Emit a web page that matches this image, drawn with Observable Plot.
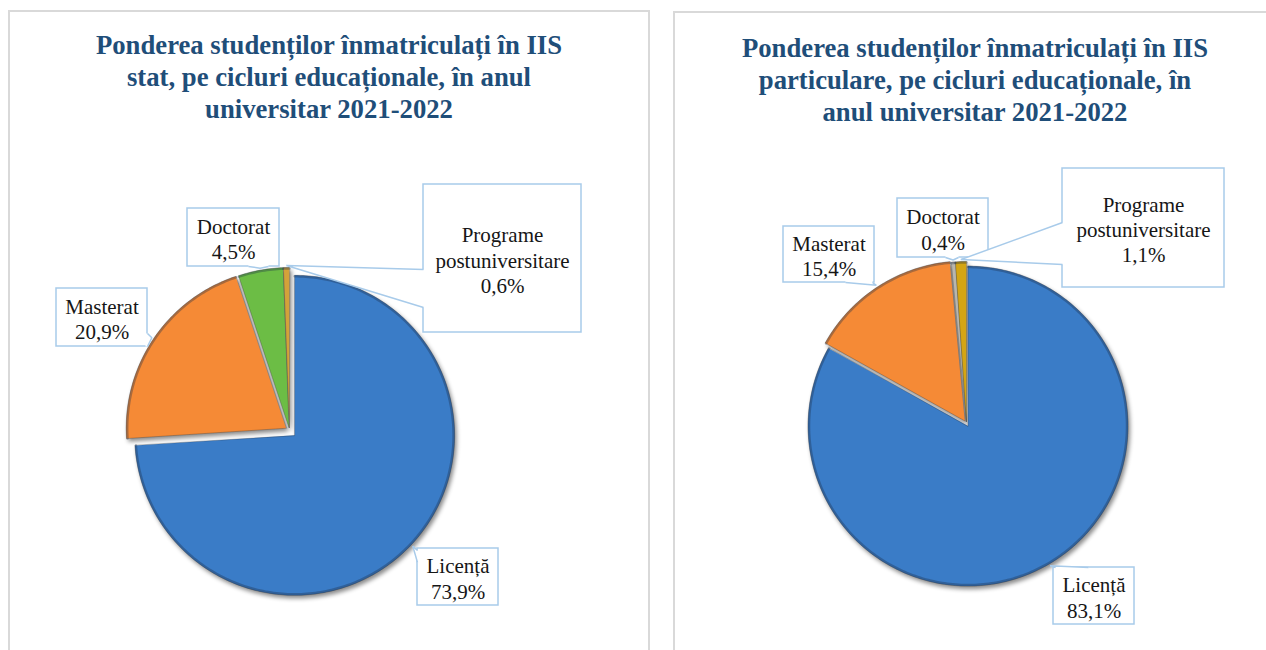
<!DOCTYPE html>
<html>
<head>
<meta charset="utf-8">
<script src="https://cdn.jsdelivr.net/npm/d3@7"></script>
<script src="https://cdn.jsdelivr.net/npm/@observablehq/plot@0.6"></script>
<style>
  html, body { margin: 0; padding: 0; background: #fff; }
  body { width: 1266px; height: 650px; overflow: hidden; position: relative; }
  .panel { position: absolute; box-sizing: border-box; border: 2px solid #d9d9d9; background: #fff; }
  .title { position: absolute; text-align: center; font-family: "Liberation Serif", "Times New Roman", serif;
           font-weight: bold; font-size: 26.7px; line-height: 32px; color: #1f4e79; }
  .chart { position: absolute; }
</style>
</head>
<body>
<div class="panel" style="left:8px; top:10px; width:642px; height:660px;"></div>
<div class="panel" style="left:673px; top:11px; width:610px; height:660px;"></div>
<div id="t1" class="title" style="left:8px; top:29px; width:642px;"></div>
<div id="t2" class="title" style="left:673px; top:32px; width:604px;"></div>
<div id="c1" class="chart" style="left:10px; top:140px;"></div>
<div id="c2" class="chart" style="left:675px; top:140px;"></div>
<script>
// ---------- data ----------
const categories = ["Licență", "Masterat", "Doctorat", "Programe postuniversitare"];
const labelNames = ["Licență", "Masterat", "Doctorat", "Programe\npostuniversitare"];
const valuesStat = [73.9, 20.9, 4.5, 0.6];
const valuesPart = [83.1, 15.4, 0.4, 1.1];
const titleStat = ["Ponderea studenților înmatriculați în IIS", "stat, pe cicluri educaționale, în anul", "universitar 2021-2022"];
const titlePart = ["Ponderea studenților înmatriculați în IIS", "particulare, pe cicluri educaționale, în", "anul universitar 2021-2022"];

// ---------- styles / layout ----------
const colorsStat = ["#3a7cc7", "#f58a36", "#6cbd45", "#d3a23a"];
const colorsPart = ["#3a7cc7", "#f58a36", "#b9b6ae", "#d4a514"];
const layoutStat = {
  frame: {x0: 10, y0: 140, w: 640, h: 510},
  center: [289, 430], radius: 160, explode: [7, 4, 3, 3],
  boxes: [
    {x1: 417, x2: 498, y1: 548, y2: 605, side: "left", base: [550, 562]},
    {x1: 56, x2: 147, y1: 288, y2: 346, side: "right", base: [333, 346]},
    {x1: 187, x2: 279, y1: 208, y2: 266, side: "bottom", base: [248, 268]},
    {x1: 423, x2: 581, y1: 184, y2: 332, side: "left", base: [269, 307]}
  ]
};
const layoutPart = {
  frame: {x0: 675, y0: 140, w: 591, h: 510},
  center: [966, 423], radius: 160, explode: [3, 3, 2, 2],
  boxes: [
    {x1: 1053, x2: 1134, y1: 567, y2: 624, side: "top", base: [1055, 1088]},
    {x1: 783, x2: 874, y1: 226, y2: 282, side: "bottom", base: [845, 872]},
    {x1: 897, x2: 988, y1: 198, y2: 257, side: "bottom", base: [945, 958]},
    {x1: 1062, x2: 1224, y1: 168, y2: 287, side: "left", base: [222, 264]}
  ]
};

function fmt(v) { return v.toFixed(1).replace(".", ",") + "%"; }

function drawPie(values, colors, layout) {
  const total = d3.sum(values);
  const r = layout.radius;
  const slices = [], rims = [], tips = [];
  let acc = 0;
  values.forEach((v, i) => {
    const a0 = acc / total * 2 * Math.PI; acc += v;
    const a1 = acc / total * 2 * Math.PI;
    const mid = (a0 + a1) / 2;
    const cx = layout.center[0] + layout.explode[i] * Math.sin(mid);
    const cy = layout.center[1] - layout.explode[i] * Math.cos(mid);
    const n = Math.max(2, Math.ceil((a1 - a0) / (Math.PI / 180)));
    slices.push({cat: categories[i], x: cx, y: cy});
    for (let k = 0; k <= n; k++) {
      const a = a0 + (a1 - a0) * k / n;
      const p = {cat: categories[i], x: cx + r * Math.sin(a), y: cy - r * Math.cos(a)};
      slices.push(p);
      rims.push({cat: categories[i], x: cx + (r - 1) * Math.sin(a), y: cy - (r - 1) * Math.cos(a)});
    }
    tips.push({x: cx + (r + 2) * Math.sin(mid), y: cy - (r + 2) * Math.cos(mid)});
  });

  const wedgeFill = [], wedgeLine = [], labels = [];
  layout.boxes.forEach((b, i) => {
    const t = tips[i];
    let p1, p2, q1, q2;
    if (b.side === "left")   { p1 = [b.x1, b.base[0]]; p2 = [b.x1, b.base[1]]; q1 = [b.x1 + 2, b.base[0]]; q2 = [b.x1 + 2, b.base[1]]; }
    if (b.side === "right")  { p1 = [b.x2, b.base[0]]; p2 = [b.x2, b.base[1]]; q1 = [b.x2 - 2, b.base[0]]; q2 = [b.x2 - 2, b.base[1]]; }
    if (b.side === "top")    { p1 = [b.base[0], b.y1]; p2 = [b.base[1], b.y1]; q1 = [b.base[0], b.y1 + 2]; q2 = [b.base[1], b.y1 + 2]; }
    if (b.side === "bottom") { p1 = [b.base[0], b.y2]; p2 = [b.base[1], b.y2]; q1 = [b.base[0], b.y2 - 2]; q2 = [b.base[1], b.y2 - 2]; }
    [p1, [t.x, t.y], p2, q2, q1].forEach(p => wedgeFill.push({id: i, x: p[0], y: p[1]}));
    [p1, [t.x, t.y], p2].forEach(p => wedgeLine.push({id: i, x: p[0], y: p[1]}));
    labels.push({x: (b.x1 + b.x2) / 2, y: (b.y1 + b.y2) / 2 + 1, text: labelNames[i] + "\n" + fmt(values[i]),
                 x1: b.x1, x2: b.x2, y1: b.y1, y2: b.y2});
  });

  const f = layout.frame;
  const svg = Plot.plot({
    width: f.w, height: f.h, margin: 0,
    x: {domain: [f.x0, f.x0 + f.w], range: [0, f.w], axis: null},
    y: {domain: [f.y0, f.y0 + f.h], range: [0, f.h], axis: null},
    color: {domain: categories, range: colors},
    style: {background: "transparent", overflow: "visible"},
    marks: [
      Plot.line(slices, {x: "x", y: "y", z: "cat", fill: "cat", stroke: "rgba(40,40,40,0.35)", strokeWidth: 0.8, curve: "linear-closed"}),
      Plot.line(rims, {x: "x", y: "y", z: "cat", stroke: "#1c2f48", strokeOpacity: 0.35, strokeWidth: 2.5}),
      Plot.rect(labels, {x1: "x1", x2: "x2", y1: "y1", y2: "y2", fill: "white", stroke: "#a8cbea", strokeWidth: 1.5}),
      Plot.line(wedgeFill, {x: "x", y: "y", z: "id", fill: "white", stroke: "none", curve: "linear-closed"}),
      Plot.line(wedgeLine, {x: "x", y: "y", z: "id", stroke: "#a8cbea", strokeWidth: 1.5, strokeLinejoin: "miter", strokeLinecap: "butt"}),
      Plot.text(labels, {x: "x", y: "y", text: "text", fontSize: 21, fontFamily: "Liberation Serif", lineHeight: 1.2,
                         lineAnchor: "middle", textAnchor: "middle", fill: "#161616"})
    ]
  });
  d3.select(svg).select('g[aria-label="line"]').style("filter", "drop-shadow(2px 3px 2px rgba(0,0,0,0.45))");
  return svg;
}

document.getElementById("t1").innerHTML = titleStat.join("<br>");
document.getElementById("t2").innerHTML = titlePart.join("<br>");
document.getElementById("c1").appendChild(drawPie(valuesStat, colorsStat, layoutStat));
document.getElementById("c2").appendChild(drawPie(valuesPart, colorsPart, layoutPart));
</script>
</body>
</html>
